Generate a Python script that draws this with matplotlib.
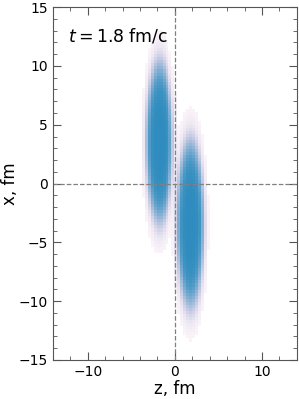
import numpy as np
import matplotlib
matplotlib.use("Agg")
import matplotlib.pyplot as plt
from matplotlib.ticker import MultipleLocator

# Blob (nucleus) parameters
blob_names = ["projectile", "target"]
blob_z_center = [-1.8, 1.8]     # fm
blob_x_center = [3.5, -3.4]     # fm
blob_z_radius = [1.55, 1.55]    # fm
blob_x_radius = [7.0, 7.3]      # fm
blob_level = [0.64, 0.64]       # relative density in the core

bin_width_z = 0.34
bin_width_x = 0.26
time_label = r"$t = 1.8$ fm/c"

z_edges = np.arange(-14, 14 + 1e-9, bin_width_z)
x_edges = np.arange(-15, 15 + 1e-9, bin_width_x)
zc = 0.5 * (z_edges[1:] + z_edges[:-1])
xc = 0.5 * (x_edges[1:] + x_edges[:-1])
Z, X = np.meshgrid(zc, xc)

H = np.zeros_like(Z)
for z0, x0, rz, rx, lv in zip(blob_z_center, blob_x_center, blob_z_radius, blob_x_radius, blob_level):
    r = np.sqrt(((Z - z0) / rz) ** 2 + ((X - x0) / rx) ** 2)
    H += lv / (1 + np.exp((r - 1) / 0.12))
H = np.ma.masked_less(H, 0.03)

fig = plt.figure(figsize=(2.99, 3.99), dpi=100)
ax = fig.add_axes([0.177, 0.098, 0.816, 0.884])
ax.pcolormesh(z_edges, x_edges, H, cmap="PuBu", vmin=0, vmax=1, shading="flat")

ax.axvline(0, color="gray", ls="--", lw=0.9)
ax.axhline(0, color="gray", ls="--", lw=0.9)

ax.set_xlim(-14, 14)
ax.set_ylim(-15, 15)
ax.xaxis.set_major_locator(MultipleLocator(10))
ax.xaxis.set_minor_locator(MultipleLocator(2))
ax.yaxis.set_major_locator(MultipleLocator(5))
ax.yaxis.set_minor_locator(MultipleLocator(1))
ax.tick_params(which="both", direction="in", top=True, right=True, color="#555555")
ax.tick_params(which="major", length=6, labelsize=10)
ax.tick_params(which="minor", length=3)
for s in ax.spines.values():
    s.set_color("#555555")

ax.set_xlabel("z, fm", fontsize=12, labelpad=1)
ax.set_ylabel("x, fm", fontsize=12, labelpad=0)
ax.text(0.06, 0.945, time_label, transform=ax.transAxes, fontsize=12.5, va="top", ha="left")

fig.savefig("out.png", dpi=100)
